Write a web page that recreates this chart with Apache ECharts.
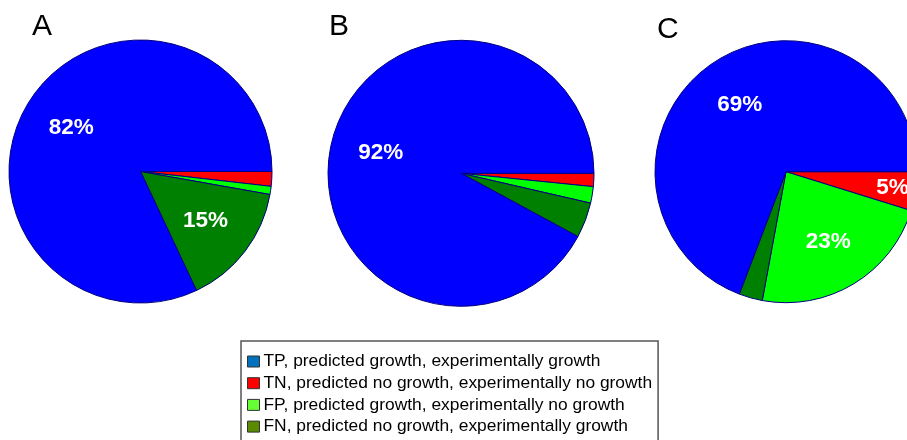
<!DOCTYPE html>
<html>
<head>
<meta charset="utf-8">
<script src="https://cdn.jsdelivr.net/npm/echarts@6/dist/echarts.min.js"></script>
<style>
  html, body { margin: 0; padding: 0; background: #ffffff; }
  #chart { width: 907px; height: 440px; }
</style>
</head>
<body>
<div id="chart"></div>
<script>
// Categories (legend order) and their pie/legend colours
const categories = [
  'TP, predicted growth, experimentally growth',
  'TN, predicted no growth, experimentally no growth',
  'FP, predicted growth, experimentally no growth',
  'FN, predicted no growth, experimentally growth'
];
const sliceColors  = ['#0000ff', '#ff0000', '#00ff00', '#008000'];
const legendColors = ['#0072bd', '#ff0000', '#66ff33', '#5a8a00'];

// Percent values per panel, in category order [TP, TN, FP, FN]
const panelNames = ['A', 'B', 'C'];
const valuesA = [82.0, 1.8, 1.0, 15.2];
const valuesB = [92.1, 1.6, 2.0, 4.3];
const valuesC = [69.2, 4.8, 23.1, 2.9];

// Which categories carry a percentage label in each panel
const labelledA = ['TP', 'FN'];
const labelledB = ['TP'];
const labelledC = ['TP', 'FP'];
const outerLabelledC = ['TN'];

// Slices are drawn clockwise from 3 o'clock in this order
const drawOrder = [1, 2, 3, 0]; // TN, FP, FN, TP

const panels = [
  { name: 'A', values: valuesA, labelled: labelledA, outer: [], center: [140.5, 171.5], r: 131.5, letter: [32, 26.5] },
  { name: 'B', values: valuesB, labelled: labelledB, outer: [], center: [461, 173.3], r: 133, letter: [329, 26.5] },
  { name: 'C', values: valuesC, labelled: labelledC, outer: outerLabelledC, center: [786, 171.7], r: 131, letter: [657, 29.5] }
];

const shortName = i => categories[i].split(',')[0];

function baseData(values, labelSet) {
  return drawOrder.map(i => ({
    name: categories[i],
    value: values[i],
    itemStyle: { color: sliceColors[i] },
    label: { show: labelSet ? labelSet.indexOf(shortName(i)) >= 0 : false }
  }));
}

const labelStyle = {
  position: 'inside',
  color: '#ffffff',
  fontSize: 22.5,
  fontWeight: 'bold',
  fontFamily: 'Liberation Sans, Arial, sans-serif',
  textBorderWidth: 0,
  formatter: p => Math.round(p.value) + '%'
};

const series = [];
panels.forEach(p => {
  // visible pie
  series.push({
    type: 'pie',
    center: p.center,
    radius: p.r,
    startAngle: 0,
    clockwise: true,
    animation: false,
    silent: true,
    avoidLabelOverlap: false,
    label: { show: false },
    labelLine: { show: false },
    itemStyle: { borderColor: '#000080', borderWidth: 1 },
    emphasis: { disabled: true },
    data: baseData(p.values, null)
  });
  // transparent overlay carrying labels at 0.6 R
  series.push({
    type: 'pie',
    center: p.center,
    radius: p.r * 1.2,
    startAngle: 0,
    clockwise: true,
    animation: false,
    silent: true,
    z: 5,
    avoidLabelOverlap: false,
    label: labelStyle,
    labelLine: { show: false },
    itemStyle: { color: 'rgba(0,0,0,0)', borderWidth: 0 },
    emphasis: { disabled: true },
    data: baseData(p.values, p.labelled).map(d => Object.assign(d, { itemStyle: { color: 'rgba(0,0,0,0)' } }))
  });
  if (p.outer.length) {
    // overlay carrying small-slice labels further out (0.8 R)
    series.push({
      type: 'pie',
      center: p.center,
      radius: p.r * 1.6,
      startAngle: 0,
      clockwise: true,
      animation: false,
      silent: true,
      z: 5,
      avoidLabelOverlap: false,
      label: labelStyle,
      labelLine: { show: false },
      itemStyle: { color: 'rgba(0,0,0,0)', borderWidth: 0 },
      emphasis: { disabled: true },
      data: baseData(p.values, p.outer).map(d => Object.assign(d, { itemStyle: { color: 'rgba(0,0,0,0)' } }))
    });
  }
});

const chart = echarts.init(document.getElementById('chart'), null, { renderer: 'canvas' });
chart.setOption({
  animation: false,
  backgroundColor: '#ffffff',
  legend: {
    orient: 'vertical',
    left: 241,
    top: 341,
    height: 200,
    padding: [12, 6, 12, 6],
    itemWidth: 12,
    itemHeight: 11,
    itemGap: 4.7,
    selectedMode: false,
    backgroundColor: '#ffffff',
    borderColor: '#555555',
    borderWidth: 1.5,
    borderRadius: 0,
    textStyle: {
      fontFamily: 'Liberation Sans, Arial, sans-serif',
      fontSize: 17.4,
      color: '#000000',
      padding: [0, 0, 0, -1]
    },
    data: categories.map((c, i) => ({
      name: c,
      icon: 'rect',
      itemStyle: { color: legendColors[i], borderColor: '#333333', borderWidth: 1 }
    }))
  },
  graphic: panels.map(p => ({
    type: 'text',
    left: p.letter[0],
    top: p.letter[1] - 15,
    style: {
      text: p.name,
      fill: '#000000',
      font: '30px "Liberation Sans", Arial, sans-serif'
    }
  })),
  series: series
});
</script>
</body>
</html>
